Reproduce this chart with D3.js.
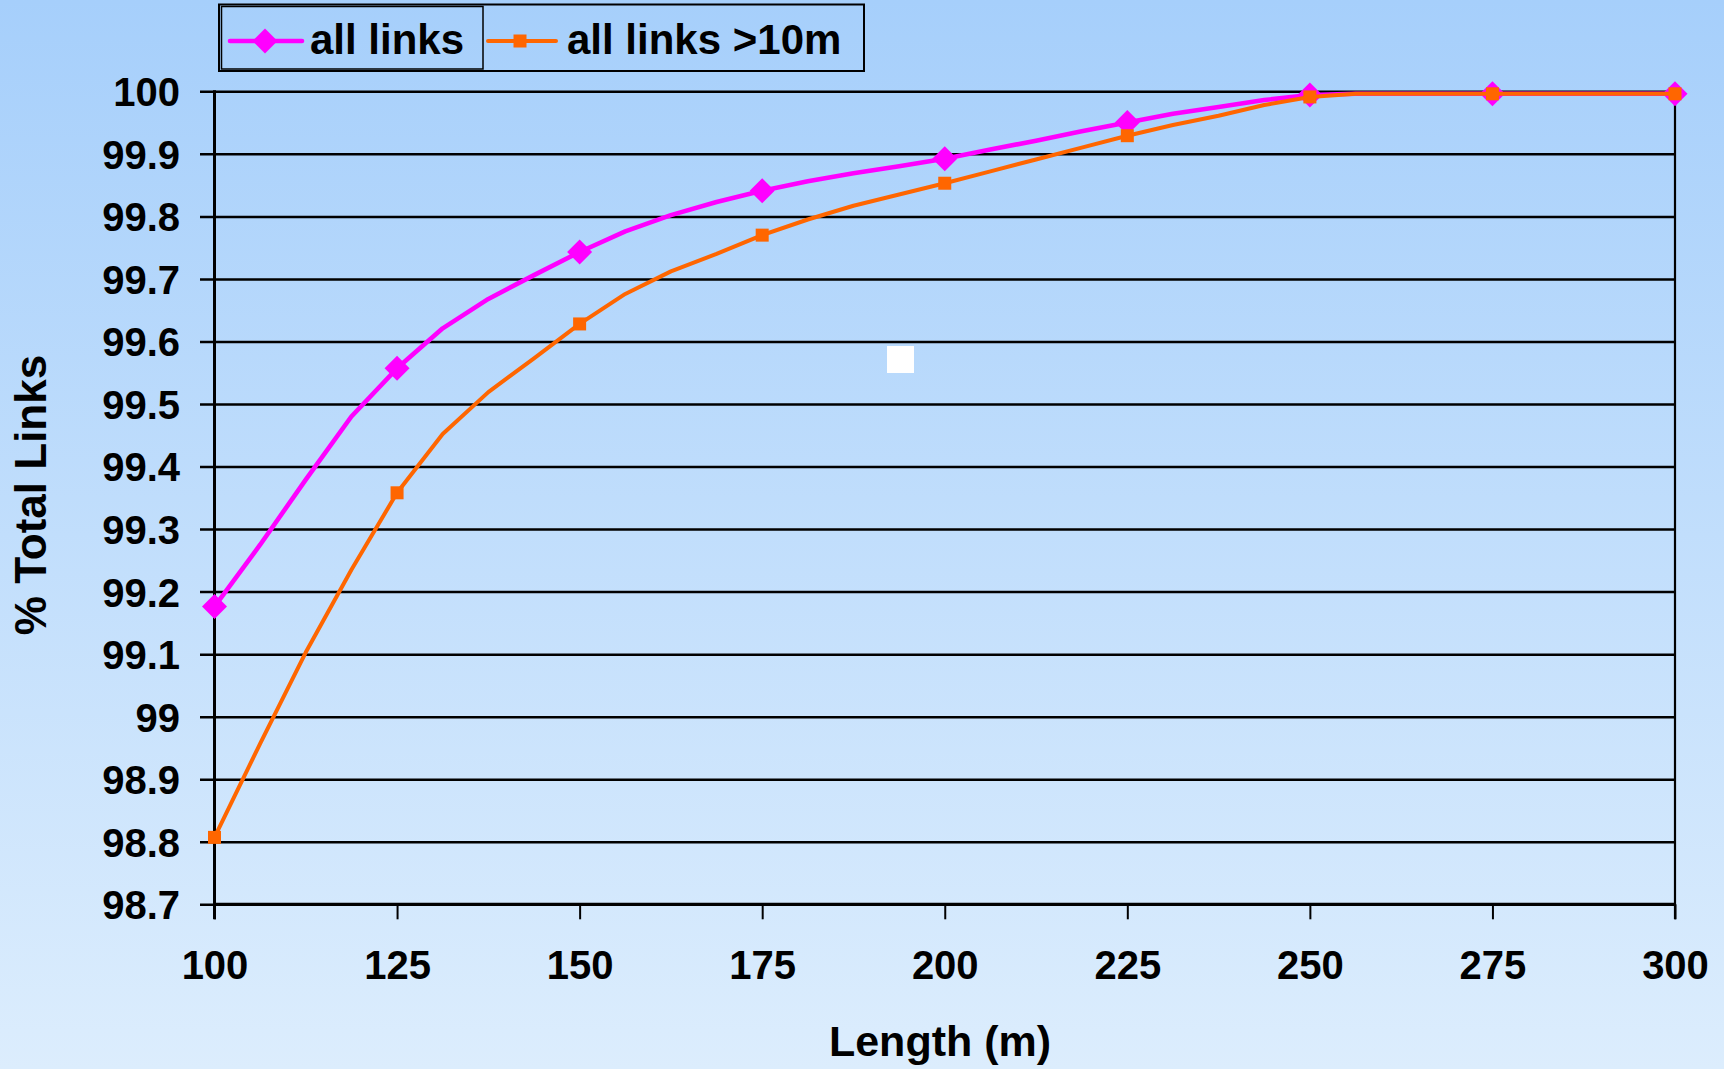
<!DOCTYPE html>
<html>
<head>
<meta charset="utf-8">
<script src="https://cdn.jsdelivr.net/npm/d3@7"></script>
<style>
  html, body { margin: 0; padding: 0; }
  body { width: 1724px; height: 1069px; overflow: hidden; }
  svg text { font-family: Arial, "Liberation Sans", sans-serif; font-weight: bold; fill: #000; }
</style>
</head>
<body>
<svg id="chart" width="1724" height="1069"></svg>
<script>
// ---- data ----
const lengths = [100, 106.25, 112.5, 118.75, 125, 131.25, 137.5, 143.75, 150, 156.25, 162.5, 168.75,
  175, 181.25, 187.5, 193.75, 200, 206.25, 212.5, 218.75, 225, 231.25, 237.5, 243.75,
  250, 256.25, 262.5, 268.75, 275, 281.25, 287.5, 293.75, 300];
const allLinks = [99.176, 99.275, 99.379, 99.480, 99.557, 99.621, 99.668, 99.706, 99.743, 99.776, 99.802, 99.823,
  99.841, 99.856, 99.869, 99.880, 99.892, 99.907, 99.921, 99.936, 99.950, 99.964, 99.975, 99.986,
  99.994, 99.996, 99.996, 99.996, 99.996, 99.996, 99.996, 99.996, 99.996];
const allLinks10m = [98.807, 98.957, 99.103, 99.235, 99.358, 99.452, 99.519, 99.573, 99.628, 99.676, 99.712, 99.740,
  99.770, 99.795, 99.817, 99.835, 99.853, 99.872, 99.891, 99.910, 99.929, 99.946, 99.961, 99.978,
  99.991, 99.996, 99.996, 99.996, 99.996, 99.996, 99.996, 99.996, 99.996];
const markerLengths = [100, 125, 150, 175, 200, 225, 250, 275, 300];
const xTicks = [100, 125, 150, 175, 200, 225, 250, 275, 300];
const yTicks = [98.7, 98.8, 98.9, 99, 99.1, 99.2, 99.3, 99.4, 99.5, 99.6, 99.7, 99.8, 99.9, 100];
const yTickLabels = ["98.7", "98.8", "98.9", "99", "99.1", "99.2", "99.3", "99.4", "99.5", "99.6", "99.7", "99.8", "99.9", "100"];
const seriesNames = ["all links", "all links >10m"];
const xTitle = "Length (m)";
const yTitle = "% Total Links";

// ---- layout ----
const svg = d3.select("#chart");
const L = 214.5, R = 1675, T = 91.3, B = 904.3;
const x = d3.scaleLinear().domain([100, 300]).range([L, R]);
const y = d3.scaleLinear().domain([98.7, 100]).range([B, T]);

// background gradient
const defs = svg.append("defs");
const grad = defs.append("linearGradient").attr("id", "bg").attr("x1", 0).attr("y1", 0).attr("x2", 0).attr("y2", 1);
grad.append("stop").attr("offset", "0%").attr("stop-color", "#a6cffb");
grad.append("stop").attr("offset", "100%").attr("stop-color", "#dcedfd");
svg.append("rect").attr("width", 1724).attr("height", 1069).attr("fill", "url(#bg)");

// horizontal gridlines (extend left as ticks)
const grid = svg.append("g").attr("transform", "translate(200,0)")
  .call(d3.axisRight(y).tickValues(yTicks).tickSize(R - 200).tickFormat(""));
grid.select(".domain").remove();
grid.selectAll("line").attr("stroke", "#000").attr("stroke-width", 2.5);

// y tick labels
const yAx = svg.append("g").attr("transform", `translate(${L},0)`)
  .call(d3.axisLeft(y).tickValues(yTicks).tickSize(0).tickPadding(34.5)
    .tickFormat((d, i) => yTickLabels[i]));
yAx.select(".domain").remove();
yAx.selectAll("text").attr("font-size", 40).attr("font-family", "Arial, 'Liberation Sans', sans-serif")
  .attr("font-weight", "bold").attr("dy", "0.36em");

// x axis
const xAx = svg.append("g").attr("transform", `translate(0,${B})`)
  .call(d3.axisBottom(x).tickValues(xTicks).tickSize(15).tickPadding(31).tickFormat(d3.format("d")));
xAx.select(".domain").attr("stroke", "#000").attr("stroke-width", 3.2).attr("d", `M${L},0H${R}`);
xAx.selectAll("line").attr("stroke", "#000").attr("stroke-width", 2);
xAx.selectAll("text").attr("font-size", 40).attr("font-family", "Arial, 'Liberation Sans', sans-serif")
  .attr("font-weight", "bold");

// y axis line and right border
svg.append("line").attr("x1", L).attr("x2", L).attr("y1", T - 1).attr("y2", B + 15)
  .attr("stroke", "#000").attr("stroke-width", 3);
svg.append("line").attr("x1", R).attr("x2", R).attr("y1", T - 1).attr("y2", B + 15)
  .attr("stroke", "#000").attr("stroke-width", 2.2);

// white square artifact
svg.append("rect").attr("x", 887).attr("y", 346).attr("width", 27).attr("height", 27).attr("fill", "#fff");

// series
const pink = "#ff00ff", orange = "#ff6600";
const line = d3.line().x(d => x(d[0])).y(d => y(d[1]));
const pinkData = lengths.map((l, i) => [l, allLinks[i]]);
const orangeData = lengths.map((l, i) => [l, allLinks10m[i]]);

svg.append("path").datum(pinkData).attr("d", line).attr("fill", "none")
  .attr("stroke", pink).attr("stroke-width", 4.6).attr("stroke-linejoin", "round");
const diamond = (cx, cy, r) => `M${cx},${cy - r}L${cx + r},${cy}L${cx},${cy + r}L${cx - r},${cy}Z`;
svg.append("g").selectAll("path").data(pinkData.filter(d => markerLengths.includes(d[0])))
  .join("path").attr("d", d => diamond(x(d[0]), y(d[1]), 12.5)).attr("fill", pink);

svg.append("path").datum(orangeData).attr("d", line).attr("fill", "none")
  .attr("stroke", orange).attr("stroke-width", 4.0).attr("stroke-linejoin", "round");
svg.append("g").selectAll("rect").data(orangeData.filter(d => markerLengths.includes(d[0])))
  .join("rect").attr("x", d => x(d[0]) - 6.5).attr("y", d => y(d[1]) - 6.5)
  .attr("width", 13).attr("height", 13).attr("fill", orange);

// axis titles
svg.append("text").attr("x", 940).attr("y", 1056).attr("text-anchor", "middle")
  .attr("font-size", 43).text(xTitle);
svg.append("text").attr("transform", "translate(46,495) rotate(-90)").attr("text-anchor", "middle")
  .attr("font-size", 44).text(yTitle);

// legend
const lg = svg.append("g");
lg.append("rect").attr("x", 219).attr("y", 4.5).attr("width", 645).attr("height", 66.5)
  .attr("fill", "none").attr("stroke", "#000").attr("stroke-width", 2);
lg.append("rect").attr("x", 221.5).attr("y", 6.5).attr("width", 261.5).attr("height", 62.5)
  .attr("fill", "none").attr("stroke", "#000").attr("stroke-width", 1.5);
lg.append("line").attr("x1", 230).attr("x2", 302).attr("y1", 41).attr("y2", 41)
  .attr("stroke", pink).attr("stroke-width", 4.6).attr("stroke-linecap", "round");
lg.append("path").attr("d", diamond(265, 41, 12.5)).attr("fill", pink);
lg.append("text").attr("x", 310).attr("y", 54).attr("font-size", 42).text(seriesNames[0]);
lg.append("line").attr("x1", 488).attr("x2", 556).attr("y1", 41).attr("y2", 41)
  .attr("stroke", orange).attr("stroke-width", 4.0).attr("stroke-linecap", "round");
lg.append("rect").attr("x", 513.5).attr("y", 34.5).attr("width", 13).attr("height", 13).attr("fill", orange);
lg.append("text").attr("x", 567).attr("y", 54).attr("font-size", 42).text(seriesNames[1]);
</script>
</body>
</html>
